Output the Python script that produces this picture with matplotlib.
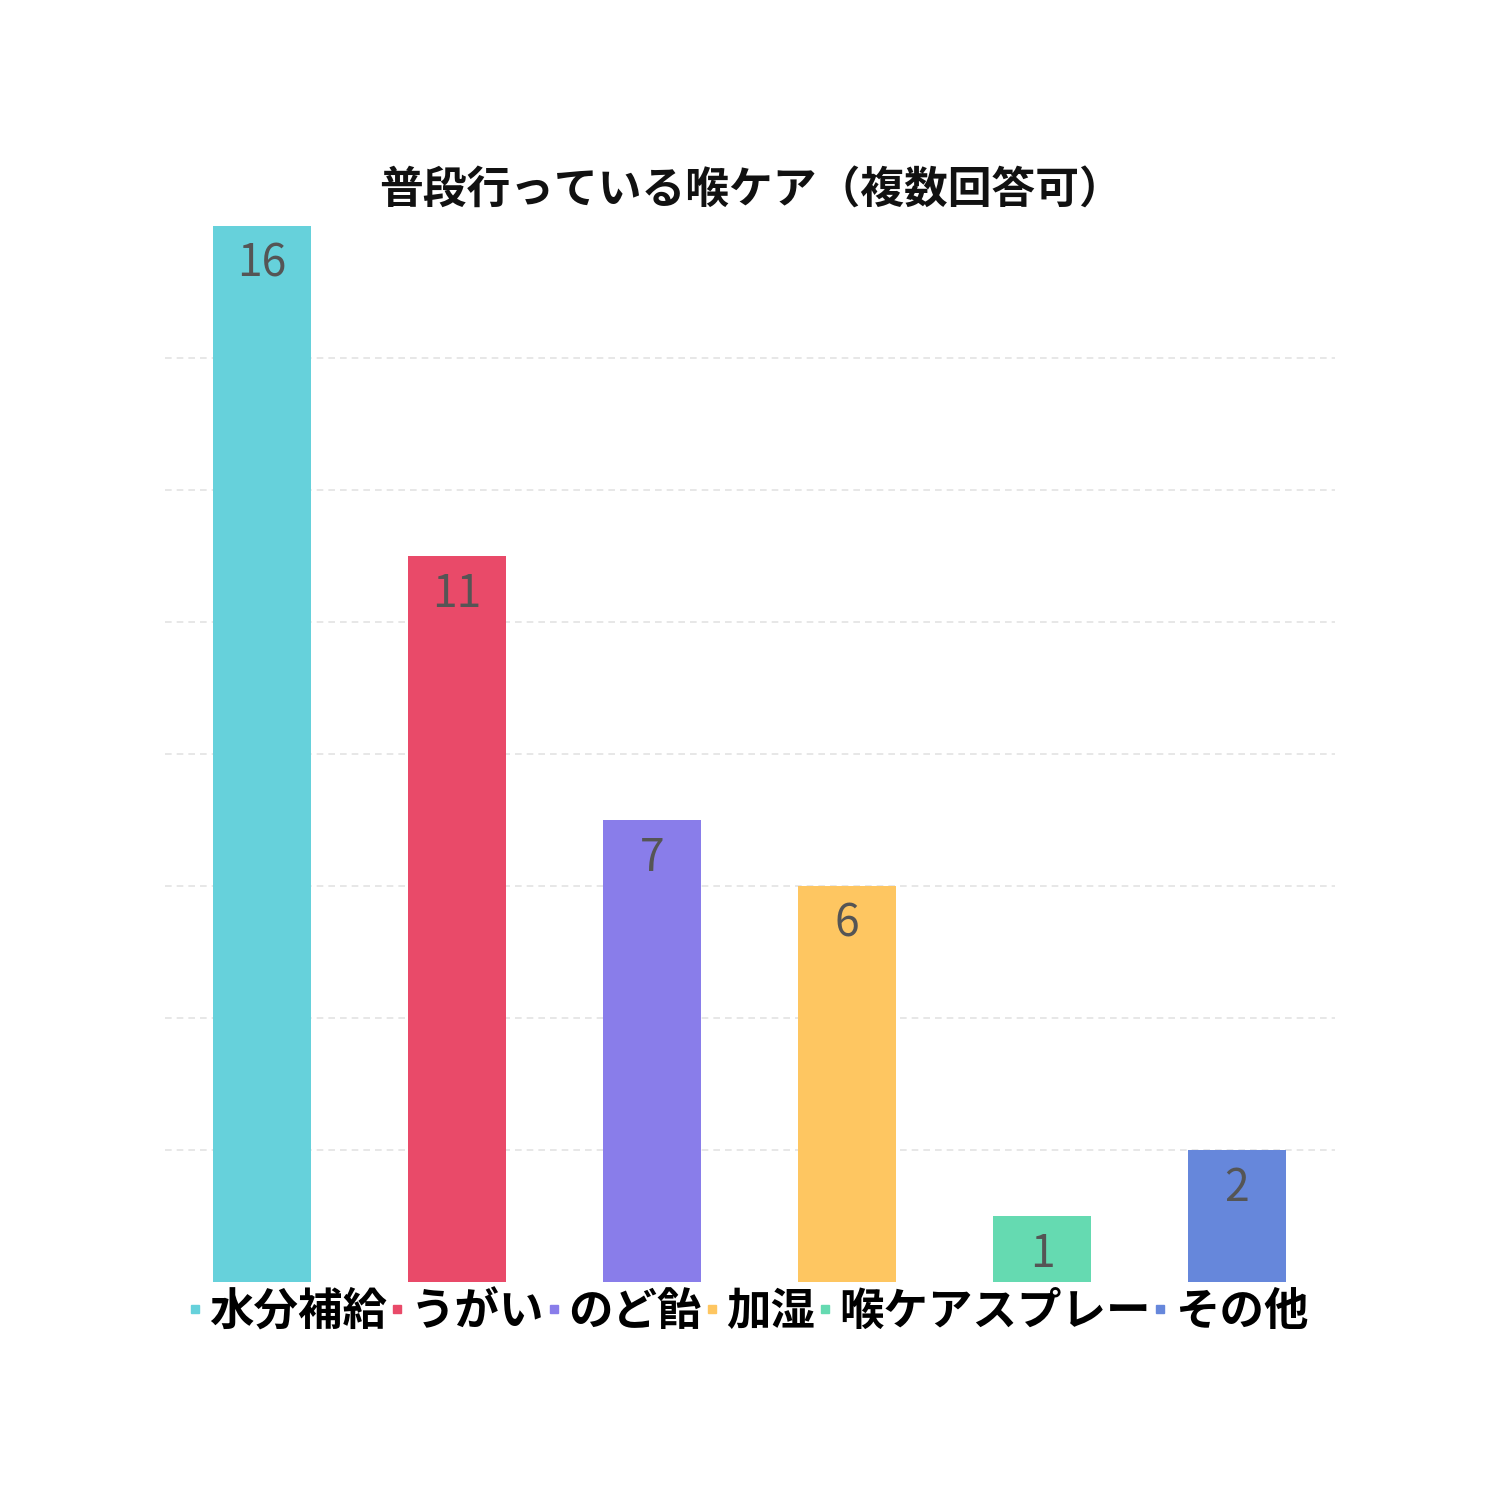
import matplotlib
matplotlib.use("Agg")
import matplotlib.pyplot as plt
from matplotlib.lines import Line2D

plt.rcParams['font.family'] = ['Noto Sans CJK JP', 'DejaVu Sans']

categories = ["水分補給", "うがい", "のど飴", "加湿", "喉ケアスプレー", "その他"]
values = [16, 11, 7, 6, 1, 2]
colors = ["#66D1DB", "#E94A69", "#897DEA", "#FEC661", "#65DAB1", "#6687DB"]
title = "普段行っている喉ケア（複数回答可）"
yticks = [2, 4, 6, 8, 10, 12, 14]

fig = plt.figure(figsize=(15, 15), dpi=100)
ax = fig.add_axes([164.5/1500, 1 - 1282/1500, 1170/1500, (1282-226)/1500])

x = list(range(len(categories)))
ax.bar(x, values, width=0.5, color=colors, zorder=3)
ax.set_xlim(-0.5, len(categories) - 0.5)
ax.set_ylim(0, 16)
ax.set_yticks(yticks)
ax.yaxis.grid(True, linestyle=(0, (4, 3)), color="#e3e3e3", linewidth=1.2, zorder=0)
ax.tick_params(left=False, bottom=False, labelleft=False, labelbottom=False)
for s in ax.spines.values():
    s.set_visible(False)

for xi, v in zip(x, values):
    ax.text(xi, v - 0.22, str(v), ha="center", va="top", fontsize=32,
            color="#555555", family=['Noto Sans CJK JP', 'DejaVu Sans'], zorder=4)

fig.text(751/1500, 1 - 191/1500, title, ha="center", va="center",
         fontsize=31.5, fontweight="bold", color="#111111")

handles = [Line2D([0], [0], marker="s", linestyle="none", markersize=5.5,
                  markerfacecolor=c, markeredgecolor=c) for c in colors]
leg = fig.legend(handles, categories, loc="center", bbox_to_anchor=(747/1500, 1 - 1312/1500),
                 ncol=len(categories), frameon=False, handlelength=0.4, handletextpad=0.12,
                 columnspacing=0.02, prop={'size': 32, 'weight': 'bold',
                                           'family': ['Noto Sans CJK JP', 'DejaVu Sans']})

fig.savefig("out.png", dpi=100, facecolor="white")
